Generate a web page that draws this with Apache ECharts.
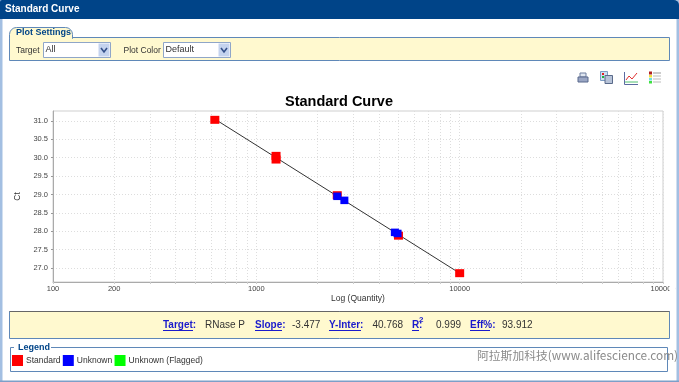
<!DOCTYPE html>
<html><head><meta charset="utf-8">
<style>html,body{margin:0;padding:0;background:#fff;overflow:hidden}#c{width:679px;height:382px}</style>
<script src="https://cdn.jsdelivr.net/npm/echarts@6/dist/echarts.min.js"></script>
</head><body><div id="c"></div>
<script>
const standardPoints = [[625,31.03],[1250,30.05],[1250,29.95],[2500,28.98],[5000,27.88],[10000,26.86]];
const unknownPoints = [[2500,28.95],[2710,28.84],[4800,27.97],[4950,27.94]];
const flaggedPoints = [];
const fitLine = [[625,31.05],[10000,26.86]];
const yTicks = [27,27.5,28,28.5,29,29.5,30,30.5,31];
const xLabels = [100,200,1000,10000,100000];
const xGrid = [100,200,300,400,500,600,700,800,900,1000,2000,3000,4000,5000,6000,7000,8000,9000,10000,20000,30000,40000,50000,60000,70000,80000,90000,100000];
const stats = {target:'RNase P',slope:'-3.477',yInter:'40.768',r2:'0.999',eff:'93.912'};

const F='"Liberation Sans",Arial,sans-serif';
const BLUE='#004488',EDGE='#5f88b8',YEL='#fff9cf';
const rect=(x,y,w,h,fill,stroke,r,z)=>({type:'rect',silent:true,z:z||1,shape:{x,y,width:w,height:h,r:r||0},style:{fill:fill||'none',stroke:stroke||null,lineWidth:1}});
const line=(a,b,c,d,col,w,z)=>({type:'line',silent:true,z:z||3,shape:{x1:a,y1:b,x2:c,y2:d},style:{stroke:col,lineWidth:w||1}});
const text=(x,y,t,o)=>({type:'text',silent:true,z:(o&&o.z)||4,x,y,style:Object.assign({text:t,font:'9px '+F,fill:'#333',textVerticalAlign:'middle'},o||{})});
const link=(x,t,w)=>[text(x,325,t,{font:'bold 10px '+F,fill:'#1a1acc'}),line(x,330.5,x+w,330.5,'#1a1acc',1)];
const val=(x,t)=>text(x,325,t,{font:'10px '+F,fill:'#333'});
const select=(x,w,t)=>[rect(x+.5,42.5,w,15,'#fff','#8fa6c8'),rect(x+w-11.5,43.5,11,13,'#c4d3ee'),
  {type:'polyline',silent:true,z:3,shape:{points:[[x+w-9,48],[x+w-6,52],[x+w-3,48]]},style:{stroke:'#33508a',lineWidth:1.6,fill:'none'}},
  text(x+2.5,50,t,{font:'9px '+F})];
const chrome=[
  rect(0,0,2.5,382,'#a3bfe2'),rect(676.5,0,2.5,382,'#a3bfe2'),rect(0,380.5,679,1.5,'#7d9fc8'),
  {type:'rect',silent:true,z:1,shape:{x:0,y:0,width:679,height:19,r:[2,5,0,0]},style:{fill:BLUE}},
  text(5,9.5,'Standard Curve',{font:'bold 10px '+F,fill:'#fff'}),
  rect(9.5,37.5,660,23,YEL,EDGE),
  {type:'rect',silent:true,z:2,shape:{x:9.5,y:27.5,width:63,height:11,r:[7,7,0,0]},style:{fill:YEL,stroke:EDGE,lineWidth:1}},
  rect(10,37,62,2,YEL,null,0,2),
  text(16,33,'Plot Settings',{font:'bold 9px '+F,fill:BLUE}),
  text(16,50.5,'Target',{font:'8.5px '+F}),
  ...select(43,67,'All'),
  text(123.5,50.5,'Plot Color',{font:'8.5px '+F}),
  ...select(163,67,'Default'),
  // toolbar icons
  rect(580,73,6,4,'#dfe6f0','#6f7f9f'),rect(578,77,10,5,'#9aa6c4','#59688c'),
  rect(600.5,71.5,7,9,'#cfe0f2','#7c9cc4'),rect(602,73,2,2,'#e02020'),rect(602,76,2,2,'#20b040'),rect(605,75.5,7.5,8,'#b7c3d8','#5a6a8a'),
  line(624.5,72,624.5,84.5,'#5a6aa0'),line(624.5,84.5,638,84.5,'#5a6aa0'),line(625,82,638,82,'#50c070'),
  {type:'polyline',silent:true,z:3,shape:{points:[[626,80],[629,76],[632,79],[637,73]]},style:{stroke:'#e03030',lineWidth:1,fill:'none'}},
  rect(649,71.5,3,3,'#b02020'),rect(649,75,3,2.5,'#f0e040'),rect(649,78,3,2.5,'#70e0e0'),rect(649,81,3,2.5,'#40e040'),
  line(653,73,661,73,'#999'),line(653,76,661,76,'#bbb'),line(653,79,661,79,'#bbb'),line(653,82,661,82,'#bbb'),
  // stats panel
  {type:'rect',silent:true,z:1,shape:{x:9.5,y:311.5,width:660,height:27},style:{fill:YEL,stroke:EDGE,lineWidth:1}},
  line(9.5,311.5,669.5,311.5,'#666',1,2),
  ...link(163,'Target:',30),val(205,stats.target),
  ...link(255,'Slope:',27),val(292,stats.slope),
  ...link(329,'Y-Inter:',32),val(372.5,stats.yInter),
  ...link(412,'R',7),text(419,320,'2',{font:'bold 8px '+F,fill:'#1a1acc'}),text(419,325.5,':',{font:'bold 10px '+F,fill:'#1a1acc'}),val(436,stats.r2),
  ...link(470,'Eff%:',20),val(502,stats.eff),
  // legend frame
  rect(10.5,347.5,657,24,'#fff',EDGE),
  rect(14,344,37,6,'#fff'),
  text(18,348,'Legend',{font:'bold 9px '+F,fill:BLUE}),
  // clip of the last axis label
  rect(669.5,284,6,10,'#fff',null,0,30),
  text(477,356,'阿拉斯加科技(www.alifescience.com)',{font:'11.8px "Noto Sans CJK SC",'+F,fill:'#8a8a8a',z:40})
];
const chart=echarts.init(document.getElementById('c'),null,{renderer:'canvas'});
const grid='#dddddd';
chart.setOption({
  animation:false,
  backgroundColor:'#fff',
  graphic:{elements:chrome},
  title:{text:'Standard Curve',left:339,top:94,textAlign:'center',textStyle:{fontFamily:F,fontWeight:'bold',fontSize:14.5,color:'#000'},padding:0,z:20},
  legend:{left:12,top:355,itemWidth:11,itemHeight:11,itemGap:2.3,padding:0,icon:'rect',selectedMode:false,z:20,
    data:['Standard','Unknown','Unknown (Flagged)'],textStyle:{fontFamily:F,fontSize:8.5,color:'#333',padding:[0,0,0,-2]}},
  grid:{left:53,right:16,top:111,bottom:100,show:true,borderColor:'#cfcfcf',borderWidth:1,z:5},
  xAxis:{type:'log',logBase:10,min:100,max:100000,name:'Log (Quantity)',nameLocation:'middle',nameGap:12,z:6,
    nameTextStyle:{fontFamily:F,fontSize:8.5,color:'#333'},
    axisLine:{show:true,onZero:false,lineStyle:{color:'#aaa'}},
    axisTick:{show:true,length:2,customValues:xGrid,lineStyle:{color:'#ccc'}},
    axisLabel:{customValues:xLabels,margin:3,fontFamily:F,fontSize:7.5,color:'#444',formatter:v=>String(Math.round(v)),hideOverlap:false,showMinLabel:true,showMaxLabel:true},
    splitLine:{show:true,lineStyle:{color:grid,type:[1,2]}}},
  yAxis:{type:'value',min:26.62,max:31.27,name:'Ct',nameLocation:'middle',nameGap:20,z:6,
    nameTextStyle:{fontFamily:F,fontSize:8.5,color:'#333'},
    axisLine:{show:true,onZero:false,lineStyle:{color:'#aaa'}},
    axisTick:{show:true,length:2,customValues:yTicks,lineStyle:{color:'#999'}},
    axisLabel:{customValues:yTicks,margin:5,fontFamily:F,fontSize:7.5,color:'#444',formatter:v=>v.toFixed(1)},
    splitLine:{show:true,lineStyle:{color:grid,type:[1,2]}}},
  series:[
    {name:'Fit',type:'line',data:fitLine,symbol:'none',lineStyle:{color:'#333',width:1},z:7},
    {name:'Standard',type:'scatter',data:standardPoints,symbol:'rect',symbolSize:[9,8],itemStyle:{color:'#ff0000',opacity:1},z:8},
    {name:'Unknown',type:'scatter',data:unknownPoints,symbol:'rect',symbolSize:[8,7.5],itemStyle:{color:'#0000ff',opacity:1},z:9},
    {name:'Unknown (Flagged)',type:'scatter',data:flaggedPoints,symbol:'rect',symbolSize:8,itemStyle:{color:'#00ff00',opacity:1},z:10}
  ]
});
</script></body></html>
